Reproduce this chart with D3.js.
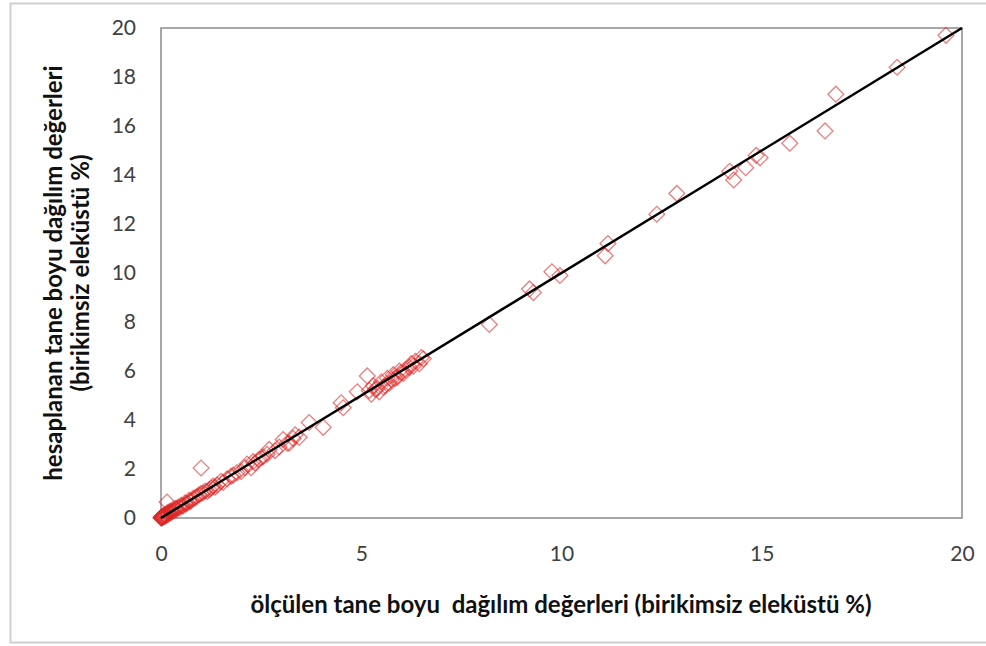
<!DOCTYPE html>
<html>
<head>
<meta charset="utf-8">
<script src="https://cdn.jsdelivr.net/npm/d3@7"></script>
<style>
  body { margin: 0; background: #fff; }
  text { font-family: Lato, "Open Sans", sans-serif; }
</style>
</head>
<body>
<div id="chart"></div>
<script>
// measured values (x) and calculated values (y), % retained
const measured = [
  0, 0.005, 0.01, 0.015, 0.02, 0.025, 0.03, 0.035, 0.04, 0.05, 0.06, 0.07, 0.08, 0.09, 0.1, 0.11, 0.12, 0.14, 0.15,
  0.17, 0.18, 0.2, 0.22, 0.24, 0.25, 0.28, 0.3, 0.33, 0.36, 0.38, 0.4, 0.43, 0.47, 0.5, 0.53, 0.55, 0.6, 0.62, 0.65,
  0.7, 0.72, 0.75, 0.8, 0.85, 0.9, 0.95, 1.0, 1.05, 1.1, 1.15, 1.2, 1.25, 1.3, 1.35, 1.4, 1.5, 1.55, 1.65, 1.75, 1.8,
  1.9, 2.0, 2.1, 2.15, 2.25, 2.3, 2.35, 2.45, 2.5, 2.55, 2.65, 2.7, 2.85, 2.95, 3.05, 3.15, 3.2, 3.3, 3.35, 3.45, 3.7,
  4.05, 4.5, 4.55, 4.9, 5.15, 5.2, 5.25, 5.3, 5.35, 5.4, 5.45, 5.5, 5.55, 5.6, 5.65, 5.7, 5.75, 5.8, 5.85, 5.9, 5.95,
  6.0, 6.05, 6.1, 6.2, 6.25, 6.3, 6.35, 6.45, 6.5, 6.55,
  0.15, 1.0, 8.2, 9.2, 9.3, 9.76, 9.96, 11.09, 11.16, 12.38, 12.88, 14.2, 14.3, 14.6, 14.86, 14.96,
  15.7, 16.58, 16.85, 18.38, 19.6
];
const calculated = [
  0, 0.02, 0.0, 0.04, 0.01, 0.05, 0.03, 0.06, 0.02, 0.08, 0.04, 0.1, 0.06, 0.11, 0.14, 0.08, 0.1, 0.18, 0.12,
  0.22, 0.16, 0.25, 0.2, 0.28, 0.22, 0.26, 0.35, 0.3, 0.4, 0.34, 0.38, 0.45, 0.42, 0.52, 0.48, 0.5, 0.62, 0.56, 0.6,
  0.72, 0.66, 0.7, 0.8, 0.82, 0.88, 0.95, 1.0, 1.02, 1.1, 1.08, 1.15, 1.22, 1.3, 1.26, 1.35, 1.5, 1.45, 1.6, 1.7, 1.75,
  1.85, 1.9, 2.05, 2.2, 2.05, 2.3, 2.25, 2.4, 2.45, 2.5, 2.6, 2.8, 2.75, 2.9, 3.2, 3.05, 3.05, 3.25, 3.4, 3.3, 3.9,
  3.7, 4.7, 4.5, 5.15, 5.8, 5.2, 5.05, 5.4, 5.25, 5.3, 5.15, 5.55, 5.35, 5.4, 5.7, 5.5, 5.65, 5.85, 5.7, 5.75, 6.0,
  5.95, 5.9, 6.05, 6.15, 6.3, 6.2, 6.4, 6.3, 6.55, 6.5,
  0.65, 2.04, 7.9, 9.35, 9.2, 10.05, 9.9, 10.7, 11.2, 12.4, 13.25, 14.15, 13.8, 14.3, 14.8, 14.7,
  15.3, 15.8, 17.3, 18.4, 19.7
];
const xTicks = [0, 5, 10, 15, 20];
const yTicks = [0, 2, 4, 6, 8, 10, 12, 14, 16, 18, 20];
const fitLine = [[0, 0], [20, 20]];

const width = 986, height = 646;
const margin = {left: 161, top: 28, right: 24, bottom: 128};

const svg = d3.select("#chart").append("svg")
    .attr("width", width)
    .attr("height", height);

// outer chart border
svg.append("rect")
    .attr("x", 10.5).attr("y", 3.5)
    .attr("width", 1000).attr("height", 639)
    .attr("fill", "none")
    .attr("stroke", "#cfcfcf")
    .attr("stroke-width", 2);

const x = d3.scaleLinear().domain([0, 20]).range([margin.left, width - margin.right]);
const y = d3.scaleLinear().domain([0, 20]).range([height - margin.bottom, margin.top]);

// plot frame
svg.append("rect")
    .attr("x", x(0)).attr("y", y(20))
    .attr("width", x(20) - x(0)).attr("height", y(0) - y(20))
    .attr("fill", "none")
    .attr("stroke", "#8a8a8a")
    .attr("stroke-width", 1.5);

// tick labels
svg.append("g")
    .attr("transform", `translate(0,${y(0) + 28})`)
    .call(d3.axisBottom(x).tickValues(xTicks).tickSize(0).tickPadding(0))
    .call(g => g.select(".domain").remove())
    .selectAll("text")
    .attr("font-size", 21)
    .attr("fill", "#404040")
    .attr("font-family", "Lato, sans-serif");

svg.append("g")
    .attr("transform", `translate(${x(0) - 25},0)`)
    .call(d3.axisLeft(y).tickValues(yTicks).tickSize(0).tickPadding(0))
    .call(g => g.select(".domain").remove())
    .selectAll("text")
    .attr("font-size", 21)
    .attr("fill", "#404040")
    .attr("font-family", "Lato, sans-serif");

// points
const pts = measured.map((m, i) => [m, calculated[i]]);
const diamond = d3.symbol().type(d3.symbolSquare).size(125);
svg.append("g")
  .selectAll("path")
  .data(pts)
  .join("path")
    .attr("d", diamond)
    .attr("transform", d => `translate(${x(d[0])},${y(d[1])}) rotate(45)`)
    .attr("fill", "none")
    .attr("stroke", "#e02828")
    .attr("stroke-opacity", 0.6)
    .attr("stroke-width", 1.3);

// 1:1 line
svg.append("path")
    .datum(fitLine)
    .attr("d", d3.line().x(d => x(d[0])).y(d => y(d[1])))
    .attr("stroke", "#000")
    .attr("stroke-width", 2.5)
    .attr("fill", "none");

// axis titles
svg.append("text")
    .attr("x", 561).attr("y", 613)
    .attr("text-anchor", "middle")
    .attr("font-size", 24)
    .attr("font-weight", "bold")
    .attr("fill", "#111")
    .style("white-space", "pre")
    .text("ölçülen tane boyu  dağılım değerleri (birikimsiz eleküstü %)");

const yTitle = svg.append("text")
    .attr("transform", `translate(62,${(y(0) + y(20)) / 2}) rotate(-90)`)
    .attr("text-anchor", "middle")
    .attr("font-size", 24)
    .attr("font-weight", "bold")
    .attr("fill", "#111");
yTitle.append("tspan").attr("x", 0).attr("y", 0).text("hesaplanan tane boyu dağılım değerleri");
yTitle.append("tspan").attr("x", 0).attr("y", 27).text("(birikimsiz eleküstü %)");
</script>
</body>
</html>
